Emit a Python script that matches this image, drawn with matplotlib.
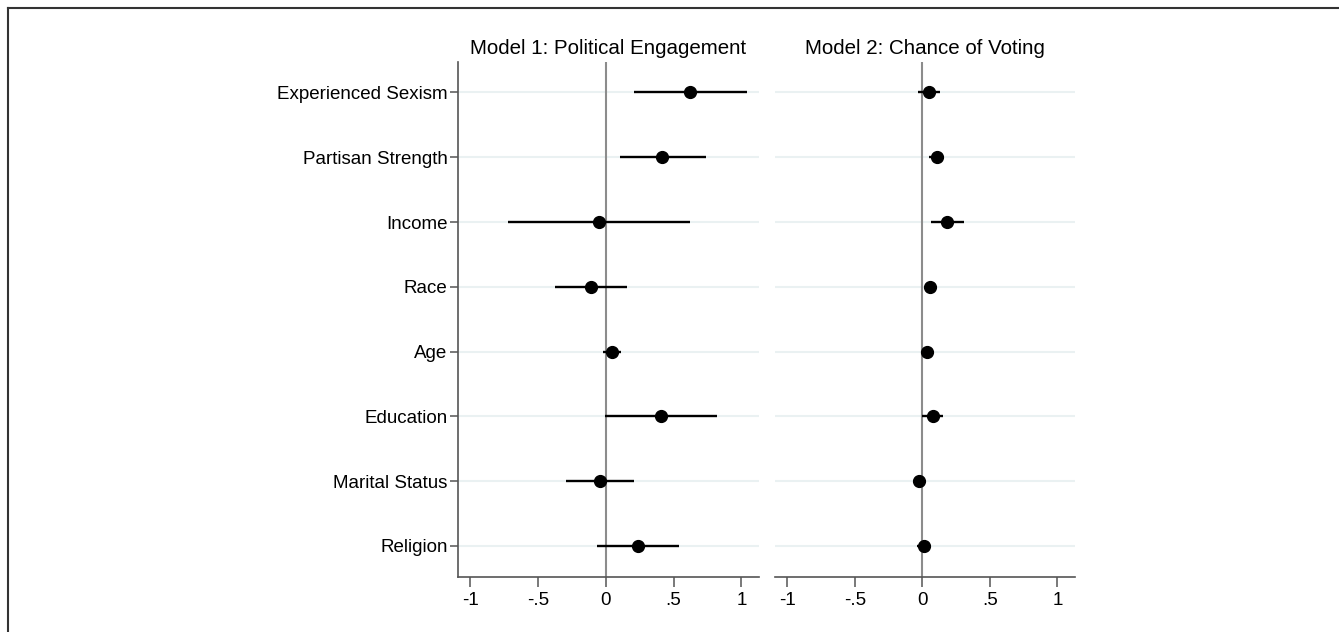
import matplotlib
matplotlib.use("Agg")
import matplotlib.pyplot as plt
from matplotlib.lines import Line2D

plt.rcParams['font.family'] = ['Liberation Sans', 'DejaVu Sans']

variables = ["Experienced Sexism", "Partisan Strength", "Income", "Race",
             "Age", "Education", "Marital Status", "Religion"]

# Model 1: Political Engagement — coefficients and 95% CIs
m1_coef = [0.625, 0.418, -0.049, -0.111, 0.047, 0.404, -0.039, 0.238]
m1_low = [0.209, 0.108, -0.718, -0.374, -0.020, -0.005, -0.290, -0.066]
m1_high = [1.043, 0.736, 0.620, 0.160, 0.116, 0.817, 0.209, 0.544]

# Model 2: Chance of Voting — coefficients and 95% CIs
m2_coef = [0.049, 0.108, 0.185, 0.057, 0.035, 0.077, -0.027, 0.010]
m2_low = [-0.030, 0.052, 0.062, 0.020, 0.015, 0.000, -0.066, -0.037]
m2_high = [0.130, 0.162, 0.308, 0.090, 0.055, 0.155, 0.015, 0.066]

titles = ["Model 1: Political Engagement", "Model 2: Chance of Voting"]
xticks = [-1, -0.5, 0, 0.5, 1]
xticklabels = ["-1", "-.5", "0", ".5", "1"]

fig = plt.figure(figsize=(13.39, 6.32), dpi=100)
ax1 = fig.add_axes([0.342, 0.087, 0.2248, 0.8149])
ax2 = fig.add_axes([0.5788, 0.087, 0.224, 0.8149])

ypos = list(range(1, len(variables) + 1))
spine_col = "#555555"

for ax, coef, lo, hi, title in [(ax1, m1_coef, m1_low, m1_high, titles[0]),
                                (ax2, m2_coef, m2_low, m2_high, titles[1])]:
    for y in ypos:
        ax.axhline(y, color="#eaf1f2", lw=1.5, zorder=0)
    ax.axvline(0, color="#8c8c8c", lw=1.5, zorder=1)
    ax.hlines(ypos, lo, hi, color="black", lw=1.7, zorder=2)
    ax.plot(coef, ypos, "o", color="black", ms=8.5, zorder=3)
    ax.set_xlim(-1.09, 1.13)
    ax.set_ylim(len(variables) + 0.48, 0.53)
    ax.set_xticks(xticks)
    ax.set_xticklabels(xticklabels)
    ax.tick_params(axis="x", direction="out", length=7, width=1.1,
                   color=spine_col, labelsize=13.5, pad=4)
    ax.set_title(title, fontsize=14.8, pad=6)
    for s in ["top", "right"]:
        ax.spines[s].set_visible(False)
    ax.spines["bottom"].set_color(spine_col)
    ax.spines["bottom"].set_linewidth(1.2)

ax1.set_yticks(ypos)
ax1.set_yticklabels(variables)
ax1.tick_params(axis="y", direction="out", length=6, width=1.1,
                color=spine_col, labelsize=13.5, pad=1.5)
ax1.spines["left"].set_color(spine_col)
ax1.spines["left"].set_linewidth(1.2)

ax2.spines["left"].set_visible(False)
ax2.set_yticks([])

# outer frame (top and left edges)
fig.add_artist(Line2D([8 / 1339, 1], [1 - 8 / 632, 1 - 8 / 632],
                      transform=fig.transFigure, color="#333333", lw=1.5))
fig.add_artist(Line2D([8 / 1339, 8 / 1339], [0, 1 - 8 / 632],
                      transform=fig.transFigure, color="#333333", lw=1.5))

fig.savefig("out.png", dpi=100, facecolor="white")
